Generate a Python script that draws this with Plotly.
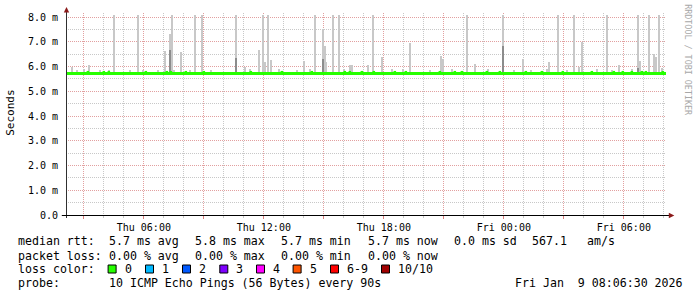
import plotly.graph_objects as go
from datetime import datetime, timedelta

# ---------------- data ----------------
t_start = "2026-01-08 02:06:30"
t_end = "2026-01-09 08:06:30"

median_level = 5.72
median_times = [t_start, t_end]

# smoke spikes: time, top value (ms), duration (minutes)
spike_time = [
    "2026-01-08 02:24", "2026-01-08 02:39", "2026-01-08 03:00", "2026-01-08 03:15",
    "2026-01-08 03:48", "2026-01-08 04:15", "2026-01-08 04:30", "2026-01-08 05:18",
    "2026-01-08 05:42", "2026-01-08 05:57", "2026-01-08 06:42", "2026-01-08 07:03",
    "2026-01-08 07:18", "2026-01-08 07:24", "2026-01-08 07:30", "2026-01-08 07:51",
    "2026-01-08 08:18", "2026-01-08 08:33", "2026-01-08 08:54", "2026-01-08 09:21",
    "2026-01-08 10:36", "2026-01-08 11:03", "2026-01-08 11:18", "2026-01-08 11:45",
    "2026-01-08 11:57", "2026-01-08 12:03", "2026-01-08 12:12", "2026-01-08 12:21",
    "2026-01-08 12:45", "2026-01-08 13:39", "2026-01-08 14:00", "2026-01-08 14:18",
    "2026-01-08 14:33", "2026-01-08 14:57", "2026-01-08 15:03", "2026-01-08 15:06",
    "2026-01-08 15:27", "2026-01-08 15:45", "2026-01-08 16:00", "2026-01-08 16:18",
    "2026-01-08 16:24", "2026-01-08 17:12", "2026-01-08 17:27", "2026-01-08 17:54",
    "2026-01-08 18:24", "2026-01-08 18:57", "2026-01-08 19:18", "2026-01-08 20:18",
    "2026-01-08 20:51", "2026-01-08 20:57", "2026-01-08 21:24", "2026-01-08 22:09",
    "2026-01-08 22:33", "2026-01-08 23:12", "2026-01-08 23:57", "2026-01-09 00:30",
    "2026-01-09 00:57", "2026-01-09 01:21", "2026-01-09 02:09", "2026-01-09 02:15",
    "2026-01-09 02:42", "2026-01-09 03:09", "2026-01-09 03:30", "2026-01-09 03:45",
    "2026-01-09 03:54", "2026-01-09 04:39", "2026-01-09 05:09", "2026-01-09 05:24",
    "2026-01-09 05:45", "2026-01-09 06:24", "2026-01-09 06:42", "2026-01-09 06:48",
    "2026-01-09 07:15", "2026-01-09 07:30", "2026-01-09 07:36", "2026-01-09 07:45",
    "2026-01-09 07:54",
]
spike_top = [
    6.00, 5.85, 5.90, 6.05,
    5.85, 5.85, 8.08, 5.85,
    8.08, 5.85, 5.85, 6.63,
    7.31, 8.08, 5.85, 6.59,
    5.85, 8.08, 8.08, 5.85,
    8.08, 6.00, 5.90, 6.67,
    8.08, 6.20, 8.08, 6.26,
    5.90, 5.85, 6.22, 5.90,
    8.08, 7.50, 6.83, 6.20,
    8.08, 8.08, 5.90, 6.05,
    6.05, 6.05, 8.08, 6.38,
    5.90, 5.90, 6.95, 5.85,
    6.43, 6.30, 5.90, 8.08,
    6.10, 5.90, 8.08, 5.85,
    6.30, 5.85, 5.90, 6.18,
    8.08, 5.85, 8.08, 6.00,
    6.99, 5.90, 8.08, 5.85,
    6.05, 5.90, 8.08, 6.22,
    8.08, 6.50, 6.40, 8.08,
    5.95,
]
spike_dur = [
    3, 6, 3, 3,
    3, 3, 6, 3,
    3, 3, 3, 3,
    6, 3, 3, 3,
    3, 3, 3, 3,
    6, 3, 3, 3,
    3, 3, 6, 3,
    3, 3, 3, 3,
    3, 3, 3, 3,
    3, 6, 3, 3,
    3, 3, 3, 6,
    3, 3, 3, 3,
    3, 3, 3, 6,
    3, 3, 6, 3,
    3, 3, 3, 3,
    3, 3, 3, 3,
    6, 3, 3, 3,
    3, 3, 6, 3,
    3, 3, 3, 3,
    3,
]

# darker inner smoke
dark_time = ["2026-01-08 07:18", "2026-01-08 10:36", "2026-01-08 14:57",
             "2026-01-08 23:57", "2026-01-09 06:42"]
dark_top = [6.67, 6.34, 6.30, 6.83, 5.95]
dark_dur = [3, 6, 3, 6, 3]

smoke_floor = 5.66

# small upward blips of the median line
blip_time = [
    "2026-01-08 03:12", "2026-01-08 04:00", "2026-01-08 04:15", "2026-01-08 06:06",
    "2026-01-08 07:09", "2026-01-08 07:21", "2026-01-08 08:06", "2026-01-08 09:00",
    "2026-01-08 11:21", "2026-01-08 12:54", "2026-01-08 14:24", "2026-01-08 16:03",
    "2026-01-08 16:18", "2026-01-08 16:54", "2026-01-08 17:30", "2026-01-08 18:33",
    "2026-01-08 19:06", "2026-01-08 20:48", "2026-01-08 21:33", "2026-01-08 21:54",
    "2026-01-08 23:09", "2026-01-08 23:48", "2026-01-09 01:06", "2026-01-09 01:54",
    "2026-01-09 02:57", "2026-01-09 04:24", "2026-01-09 05:30", "2026-01-09 05:57",
    "2026-01-09 06:24", "2026-01-09 06:54", "2026-01-09 07:06", "2026-01-09 07:57",
]
blip_val = [5.77] * len(blip_time)

y_tick_vals = [0, 1, 2, 3, 4, 5, 6, 7, 8]
y_tick_text = ["0.0", "1.0 m", "2.0 m", "3.0 m", "4.0 m", "5.0 m", "6.0 m", "7.0 m", "8.0 m"]

x_tick_vals = ["2026-01-08 03:00", "2026-01-08 06:00", "2026-01-08 09:00", "2026-01-08 12:00",
               "2026-01-08 15:00", "2026-01-08 18:00", "2026-01-08 21:00", "2026-01-09 00:00",
               "2026-01-09 03:00", "2026-01-09 06:00"]
x_tick_text = ["", "Thu 06:00", "", "Thu 12:00", "", "Thu 18:00", "", "Fri 00:00", "", "Fri 06:00"]

legend_rtt = ["median rtt:", "5.7 ms avg", "5.8 ms max", "5.7 ms min", "5.7 ms now",
              "0.0 ms sd", "567.1", "am/s"]
legend_loss = ["packet loss:", "0.00 % avg", "0.00 % max", "0.00 % min", "0.00 % now"]
loss_labels = ["0", "1", "2", "3", "4", "5", "6-9", "10/10"]
loss_colors = ["#26ff00", "#00b8ff", "#0059ff", "#7e00ff", "#ff00ff", "#ff5500", "#ff0000", "#a10000"]
probe_text = "10 ICMP Echo Pings (56 Bytes) every 90s"
stamp_text = "Fri Jan  9 08:06:30 2026"

# ---------------- layout geometry (pixels) ----------------
W, H = 697, 297
PL, PR, PT, PB = 66.2, 666.2, 13.0, 215.0
Y_MAX = 8.0 + (PB - 17.0 - (PB - PT)) / -24.75 if False else (PB - PT) / 24.75


def px(x):
    return (x - PL) / (PR - PL)


def py(y):
    return (PB - y) / (PB - PT)


MONO = "DejaVu Sans Mono"

fig = go.Figure()

fig.add_trace(go.Bar(
    x=spike_time,
    y=[t - smoke_floor for t in spike_top],
    base=[smoke_floor] * len(spike_top),
    width=[d * 60000 for d in spike_dur],
    marker=dict(color="#c8c8c8", line=dict(width=0)),
    hoverinfo="skip", showlegend=False,
))
fig.add_trace(go.Bar(
    x=dark_time,
    y=[t - smoke_floor for t in dark_top],
    base=[smoke_floor] * len(dark_top),
    width=[d * 60000 for d in dark_dur],
    marker=dict(color="#8c8c8c", line=dict(width=0)),
    hoverinfo="skip", showlegend=False,
))
fig.add_trace(go.Scatter(
    x=median_times, y=[median_level] * len(median_times),
    mode="lines", line=dict(color="#26ff00", width=3),
    hoverinfo="skip", showlegend=False,
))
fig.add_trace(go.Scatter(
    x=blip_time, y=blip_val, mode="markers",
    marker=dict(symbol="square", size=2.5, color="#26ff00", line=dict(width=0)),
    hoverinfo="skip", showlegend=False,
))

fig.update_layout(
    width=W, height=H,
    margin=dict(l=PL, r=W - PR, t=PT, b=H - PB, pad=0),
    paper_bgcolor="white", plot_bgcolor="white",
    barmode="overlay", bargap=0,
    font=dict(family=MONO, size=10, color="#000000"),
    xaxis=dict(
        type="date", range=[t_start, t_end],
        tickmode="array", tickvals=x_tick_vals, ticktext=x_tick_text,
        showgrid=True, gridcolor="#e2a0a0", griddash="1px,1px", gridwidth=1,
        minor=dict(dtick=3600000, tick0="2026-01-08 00:00", showgrid=True,
                   gridcolor="#c8c8c8", griddash="1px,1px", gridwidth=1,
                   ticks="outside", ticklen=2, tickcolor="#c8c8c8"),
        ticks="outside", ticklen=3, tickcolor="#e08080",
        tickfont=dict(family=MONO, size=10, color="#000000"),
        zeroline=False, showline=False, fixedrange=True,
    ),
    yaxis=dict(
        range=[0, Y_MAX],
        tickmode="array", tickvals=y_tick_vals, ticktext=y_tick_text,
        showgrid=True, gridcolor="#e2a0a0", griddash="1px,1px", gridwidth=1,
        minor=dict(dtick=0.5, tick0=0, showgrid=True,
                   gridcolor="#c8c8c8", griddash="1px,1px", gridwidth=1),
        ticks="outside", ticklen=5, tickcolor="rgba(0,0,0,0)",
        tickfont=dict(family=MONO, size=10, color="#000000"),
        zeroline=False, showline=False, fixedrange=True,
    ),
)

shapes = []
# axes lines
shapes.append(dict(type="line", xref="paper", yref="paper",
                   x0=px(66.7), x1=px(66.7), y0=py(218), y1=py(11),
                   line=dict(color="#303030", width=1)))
shapes.append(dict(type="line", xref="paper", yref="paper",
                   x0=px(62), x1=px(670), y0=py(215.5), y1=py(215.5),
                   line=dict(color="#000000", width=1.2)))
# arrows
shapes.append(dict(type="path", xref="paper", yref="paper",
                   path=f"M {px(64)},{py(12.5)} L {px(69.4)},{py(12.5)} L {px(66.7)},{py(7)} Z",
                   fillcolor="#8b1a1a", line=dict(width=0)))
shapes.append(dict(type="path", xref="paper", yref="paper",
                   path=f"M {px(669)},{py(212.8)} L {px(669)},{py(218.2)} L {px(674.5)},{py(215.5)} Z",
                   fillcolor="#8b1a1a", line=dict(width=0)))

annotations = []
annotations.append(dict(text="Seconds", xref="paper", yref="paper",
                        x=px(10), y=py(113), textangle=-90, showarrow=False,
                        xanchor="center", yanchor="middle",
                        font=dict(family=MONO, size=11, color="#000000")))
annotations.append(dict(text="RRDTOOL / TOBI OETIKER", xref="paper", yref="paper",
                        x=px(688), y=py(60), textangle=90, showarrow=False,
                        xanchor="center", yanchor="middle",
                        font=dict(family=MONO, size=8.4, color="#a8a8a8")))

LF = dict(family=MONO, size=11.6, color="#000000")


def add_text(txt, x, y):
    annotations.append(dict(text=txt.replace(" ", "\u00a0"), xref="paper", yref="paper",
                            x=px(x), y=py(y), showarrow=False,
                            xanchor="left", yanchor="middle", font=LF))


rtt_x = [16, 107, 193.3, 279.3, 366, 451.7, 530, 585]
for t, x in zip(legend_rtt, rtt_x):
    add_text(t, x, 241.5)
loss_x = [16, 107, 193.3, 279.3, 366]
for t, x in zip(legend_loss, loss_x):
    add_text(t, x, 255.5)
add_text("loss color:", 16, 269.2)
sq_x = [108.3, 145.7, 182.7, 220, 256.7, 293.3, 330.7, 381.7]
for lab, col, x in zip(loss_labels, loss_colors, sq_x):
    shapes.append(dict(type="rect", xref="paper", yref="paper",
                       x0=px(x), x1=px(x + 8), y0=py(265), y1=py(273),
                       fillcolor=col, line=dict(color="#000000", width=1)))
    add_text(lab, x + 14.5, 269.2)
add_text("probe:", 16, 283)
add_text(probe_text, 107, 283)
add_text(stamp_text, 513, 283)

fig.update_layout(shapes=shapes, annotations=annotations)

fig.write_html("out.html")
